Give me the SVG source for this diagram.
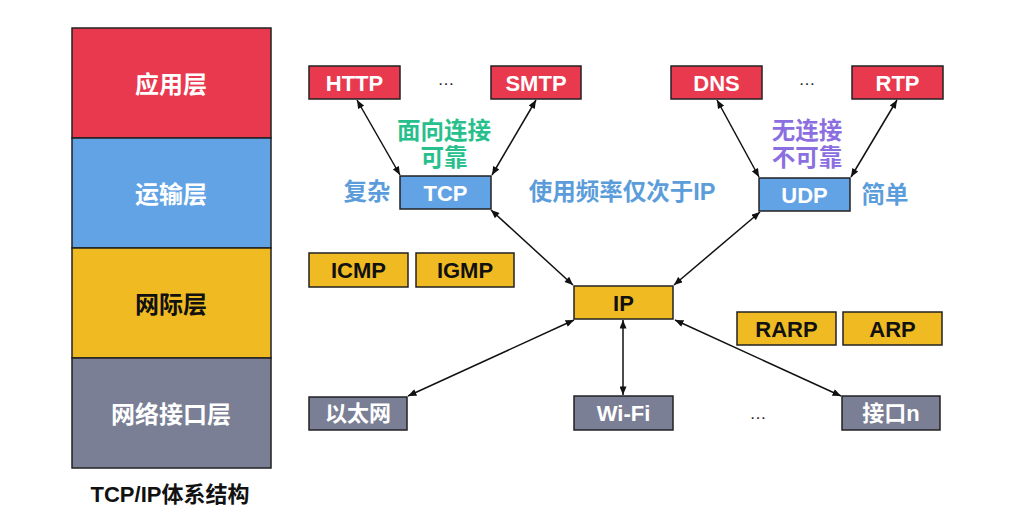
<svg xmlns="http://www.w3.org/2000/svg" width="1014" height="529" viewBox="0 0 1014 529">
<style>
text{font-family:"Liberation Sans","Noto Sans CJK SC",sans-serif;font-weight:bold;text-anchor:middle;dominant-baseline:central}
.box{stroke:#222;stroke-width:1.5}
.red{fill:#E8394F}.blue{fill:#62A3E5}.yel{fill:#F0BB22}.gry{fill:#7A7F95}
.wt{fill:#fff;font-size:22px}.bt{fill:#111;font-size:22px}
.wt.lay,.bt.lay{font-size:24px}
.con line{stroke:#111;stroke-width:1.5;marker-start:url(#ah);marker-end:url(#ah)}
.g{fill:#27C08C;font-size:23.5px}.p{fill:#8B6FE0;font-size:23.5px}.b{fill:#5B9DDB;font-size:23.5px}
.dots{fill:#222;font-size:17px;font-weight:normal}
</style>
<defs>
<marker id="ah" viewBox="0 0 12 10" refX="12" refY="5" markerWidth="9" markerHeight="7" markerUnits="userSpaceOnUse" orient="auto-start-reverse">
<path d="M0,0 L12,5 L0,10 z" fill="#111"/>
</marker>
</defs>
<rect width="1014" height="529" fill="#fff"/>
<g id="stack">
<rect class="box red" x="72" y="28" width="199" height="110"/>
<rect class="box blue" x="72" y="138" width="199" height="110"/>
<rect class="box yel" x="72" y="248" width="199" height="110"/>
<rect class="box gry" x="72" y="358" width="199" height="110"/>
<text class="wt lay" x="171" y="84">应用层</text>
<text class="wt lay" x="171" y="194">运输层</text>
<text class="bt lay" x="171" y="304">网际层</text>
<text class="wt lay" x="171" y="414">网络接口层</text>
<text x="170" y="494" style="fill:#111;font-size:22px">TCP/IP体系结构</text>
</g>
<g class="con">
<line x1="357" y1="100" x2="400" y2="175"/>
<line x1="536" y1="100" x2="492" y2="175"/>
<line x1="717" y1="100" x2="759" y2="177"/>
<line x1="897" y1="100" x2="851" y2="177"/>
<line x1="491" y1="210" x2="573" y2="285"/>
<line x1="760" y1="212" x2="674" y2="285"/>
<line x1="574" y1="320" x2="408" y2="396"/>
<line x1="623" y1="320" x2="623" y2="395"/>
<line x1="675" y1="320" x2="841" y2="396"/>
</g>
<g id="HTTP"><rect class="box red" x="309" y="66" width="91" height="33"/><text class="wt" x="354.5" y="83">HTTP</text></g>
<g id="SMTP"><rect class="box red" x="491" y="66" width="90" height="33"/><text class="wt" x="536" y="83">SMTP</text></g>
<g id="DNS"><rect class="box red" x="671" y="66" width="91" height="33"/><text class="wt" x="716.5" y="83">DNS</text></g>
<g id="RTP"><rect class="box red" x="852" y="66" width="91" height="33"/><text class="wt" x="897.5" y="83">RTP</text></g>
<g id="TCP"><rect class="box blue" x="400" y="176" width="91" height="33"/><text class="wt" x="445.5" y="193">TCP</text></g>
<g id="UDP"><rect class="box blue" x="759" y="178" width="91" height="33"/><text class="wt" x="804.5" y="195">UDP</text></g>
<g id="ICMP"><rect class="box yel" x="309" y="253" width="99" height="34"/><text class="bt" x="358.5" y="270">ICMP</text></g>
<g id="IGMP"><rect class="box yel" x="416" y="253" width="98" height="34"/><text class="bt" x="465" y="270">IGMP</text></g>
<g id="IP"><rect class="box yel" x="574" y="286" width="99" height="33"/><text class="bt" x="623.5" y="303">IP</text></g>
<g id="RARP"><rect class="box yel" x="737" y="312" width="99" height="33"/><text class="bt" x="786.5" y="329">RARP</text></g>
<g id="ARP"><rect class="box yel" x="843" y="312" width="99" height="33"/><text class="bt" x="892.5" y="329">ARP</text></g>
<g id="Ethernet"><rect class="box gry" x="309" y="397" width="98" height="33"/><text class="wt" x="358" y="413">以太网</text></g>
<g id="WiFi"><rect class="box gry" x="574" y="396" width="99" height="34"/><text class="wt" x="623.5" y="413">Wi-Fi</text></g>
<g id="IFn"><rect class="box gry" x="842" y="396" width="98" height="34"/><text class="wt" x="891" y="413">接口n</text></g>
<g id="labels">
<text class="dots" x="446" y="79">…</text>
<text class="dots" x="807" y="79">…</text>
<text class="dots" x="758" y="413">…</text>
<text class="g" x="444" y="131">面向连接</text>
<text class="g" x="444" y="158">可靠</text>
<text class="p" x="807" y="131">无连接</text>
<text class="p" x="807" y="158">不可靠</text>
<text class="b" x="367" y="192">复杂</text>
<text class="b" x="622" y="192">使用频率仅次于IP</text>
<text class="b" x="885" y="195">简单</text>
</g>
</svg>
